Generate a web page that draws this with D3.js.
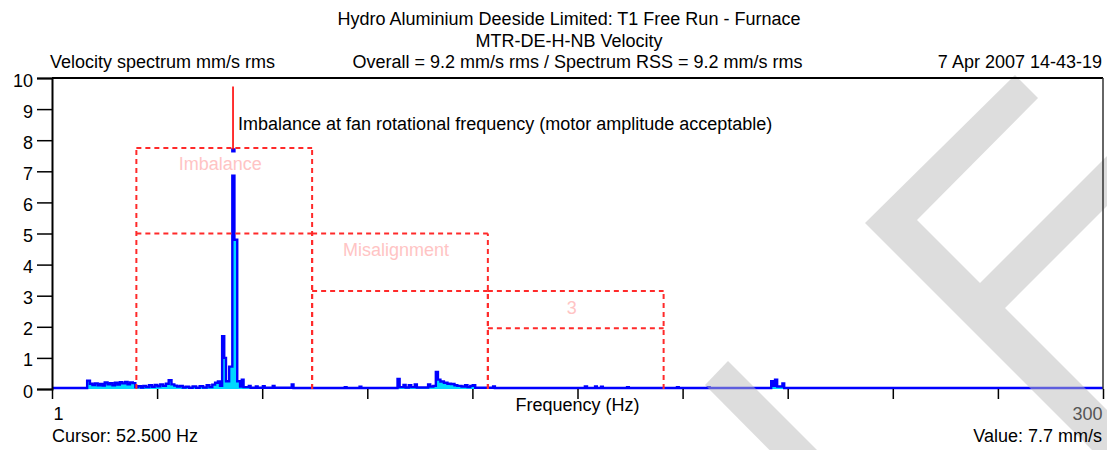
<!DOCTYPE html>
<html>
<head>
<meta charset="utf-8">
<script src="https://cdn.jsdelivr.net/npm/d3@7"></script>
<style>
  html, body { margin: 0; padding: 0; background: #fff; }
  svg { display: block; font-family: "Liberation Sans", Arial, sans-serif; }
</style>
</head>
<body>
<svg id="chart" width="1107" height="450"></svg>
<script>
// ---- Chart data ----------------------------------------------------------
const titleLines = [
  "Hydro Aluminium Deeside Limited: T1 Free Run - Furnace",
  "MTR-DE-H-NB Velocity"
];
const headerLeft = "Velocity spectrum mm/s rms";
const headerCenter = "Overall = 9.2 mm/s rms / Spectrum RSS = 9.2 mm/s rms";
const headerRight = "7 Apr 2007 14-43-19";
const xAxisTitle = "Frequency (Hz)";
const footerLeft = "Cursor: 52.500 Hz";
const footerRight = "Value: 7.7 mm/s";

// Axis ranges and tick labels
const freqRange = [1, 300];
const ampRange = [0, 10];
const yTickValues = [0, 1, 2, 3, 4, 5, 6, 7, 8, 9, 10];
const xTickValues = [1, 30.9, 60.8, 90.7, 120.6, 150.5, 180.4, 210.3, 240.2, 270.1, 300];
const xTickLabels = ["1", "", "", "", "", "", "", "", "", "", "300"];

// Velocity spectrum: each amplitude (mm/s rms) holds from its frequency (Hz) to the next one
const specFreq = [
  1.0, 11.0, 11.8, 12.5, 13.2, 14.0, 14.7, 15.4, 16.0, 16.8, 17.5, 18.2, 18.9, 19.6,
  20.3, 21.0, 21.8, 22.5, 23.2, 24.0, 24.7, 25.4, 26.3, 27.0, 27.8, 28.6, 29.4, 30.2,
  31.0, 31.8, 32.6, 33.4, 34.2, 35.0, 35.8, 36.6, 37.4, 38.2, 39.0, 40.0, 41.0, 42.0,
  43.0, 44.0, 45.0, 45.8, 46.6, 47.4, 48.2, 48.8, 49.4, 50.0, 50.5, 51.4, 52.3, 52.9,
  53.7, 54.5, 55.0, 55.5, 57.0, 57.5, 59.0, 59.5, 61.0, 61.5, 63.8, 64.3, 69.2, 69.7,
  84.3, 84.8, 88.5, 89.0, 99.3, 99.9, 101.0, 101.6, 102.5, 103.2, 104.2, 104.8, 108.0,
  108.6, 109.5, 110.2, 110.8, 111.5, 112.5, 113.5, 114.5, 115.5, 116.3, 117.5, 118.5,
  119.2, 120.0, 120.7, 121.4, 126.5, 127.0, 152.6, 153.2, 155.5, 156.0, 157.2, 157.7,
  164.6, 165.1, 178.8, 179.3, 187.6, 188.1, 205.6, 206.1, 206.7, 207.3, 208.8, 209.3,
  300.0
];
const specAmp = [
  0.03, 0.27, 0.17, 0.13, 0.18, 0.12, 0.16, 0.11, 0.21, 0.15, 0.19, 0.12, 0.20, 0.14,
  0.22, 0.18, 0.23, 0.15, 0.21, 0.19, 0.06, 0.09, 0.05, 0.10, 0.06, 0.12, 0.07, 0.13,
  0.09, 0.15, 0.10, 0.17, 0.28, 0.15, 0.11, 0.08, 0.10, 0.05, 0.07, 0.04, 0.08, 0.04,
  0.09, 0.05, 0.12, 0.06, 0.14, 0.20, 0.24, 0.10, 1.70, 1.00, 0.25, 0.72, 7.70, 4.80,
  0.25, 0.08, 0.30, 0.06, 0.10, 0.04, 0.08, 0.04, 0.09, 0.04, 0.10, 0.04, 0.15, 0.03,
  0.06, 0.03, 0.07, 0.03, 0.32, 0.06, 0.13, 0.05, 0.12, 0.06, 0.15, 0.05, 0.15,
  0.08, 0.10, 0.55, 0.30, 0.24, 0.20, 0.17, 0.16, 0.12, 0.10, 0.08, 0.12,
  0.06, 0.10, 0.12, 0.04, 0.08, 0.03, 0.08, 0.03, 0.08, 0.03, 0.07, 0.03,
  0.06, 0.03, 0.06, 0.03, 0.06, 0.03, 0.25, 0.10, 0.30, 0.08, 0.18, 0.03,
  0.03
];

// Alarm bands: frequency limits and two alarm levels each (mm/s)
const bandNames = ["Imbalance", "Misalignment", "3"];
const bandStart = [25, 75, 125];
const bandEnd = [75, 125, 175];
const bandUpper = [7.75, 5.0, 3.15];
const bandLower = [5.0, 3.15, 1.95];

// Cursor
const cursorFreq = 52.5;
const cursorValue = 7.7;
const cursorNote = "Imbalance at fan rotational frequency (motor amplitude acceptable)";

// ---- Drawing -------------------------------------------------------------
const svg = d3.select("#chart");
const W = 1107, H = 450;
const plot = { left: 52, right: 1103, top: 78, bottom: 389 };
const FONT = 18;

const x = d3.scaleLinear().domain(freqRange).range([plot.left, plot.right]);
const y = d3.scaleLinear().domain(ampRange).range([plot.bottom, plot.top]);

svg.append("rect").attr("width", W).attr("height", H).attr("fill", "#fff");

const txt = (g, s, px, py, anchor, color) =>
  g.append("text").attr("x", px).attr("y", py)
    .attr("text-anchor", anchor || "start")
    .attr("font-size", FONT).attr("fill", color || "#000").text(s);

// Headings
const head = svg.append("g");
titleLines.forEach((t, i) => txt(head, t, 569, 24.5 + i * 22, "middle"));
txt(head, headerLeft, 50, 68, "start");
txt(head, headerCenter, (plot.left + plot.right) / 2, 68, "middle");
txt(head, headerRight, 1102, 68, "end");

// Spectrum
const pts = specFreq.map((f, i) => [f, specAmp[i]]);
const area = d3.area().curve(d3.curveStepAfter)
  .x(d => x(d[0])).y0(y(0)).y1(d => y(d[1]));
const line = d3.line().curve(d3.curveStepAfter)
  .x(d => x(d[0])).y(d => y(d[1]));

const specG = svg.append("g");
specG.append("path").datum(pts).attr("d", area).attr("fill", "#00d8ff");
specG.append("path").datum(pts).attr("d", line)
  .attr("fill", "none").attr("stroke", "#0000ff").attr("stroke-width", 2.4)
  .attr("stroke-linejoin", "miter");

// Alarm bands (dashed red outlines); verticals run from the baseline up so shared edges line up
const bandG = svg.append("g").attr("fill", "none").attr("stroke", "#ff2a2a")
  .attr("stroke-width", 2).attr("stroke-dasharray", "5,4");
bandNames.forEach((name, i) => {
  const x0 = x(bandStart[i]), x1 = x(bandEnd[i]);
  [bandUpper[i], bandLower[i]].forEach(v => {
    bandG.append("line").attr("x1", x0).attr("x2", x1).attr("y1", y(v)).attr("y2", y(v));
  });
  [x0, x1].forEach(xx => {
    bandG.append("line").attr("x1", xx).attr("x2", xx).attr("y1", y(0)).attr("y2", y(bandUpper[i]));
  });
});

// Band names on an opaque background
const labG = svg.append("g");
bandNames.forEach((name, i) => {
  const cx = (x(bandStart[i]) + x(bandEnd[i])) / 2 - 4;
  const by = y(bandUpper[i]) + 22.5;
  const t = txt(labG, name, cx, by, "middle", "#ffc4c4");
  const bb = t.node().getBBox();
  labG.insert("rect", "text").attr("x", bb.x).attr("y", by - 18)
    .attr("width", bb.width).attr("height", 22).attr("fill", "#fff");
});

// Cursor marker and note
const cx = x(cursorFreq);
svg.append("line").attr("x1", cx).attr("x2", cx)
  .attr("y1", y(cursorValue) - 63).attr("y2", y(cursorValue))
  .attr("stroke", "#ff0000").attr("stroke-width", 1.6);
txt(svg, cursorNote, cx + 5, y(cursorValue) - 20, "start");

// Watermark strokes
const wm = svg.append("g").attr("fill", "#bbbbbb").attr("fill-opacity", 0.5);
wm.append("path").attr("d",
  "M1015,75 L1038,98 L917,220 L980,283 L1200,63 L1200,113 L1005,308 L1200,503 L1200,558 L865,223 Z");
wm.append("path").attr("d", "M705,385 L728,361 L860,493 L836,517 Z");

// Axes
const yAxis = d3.axisLeft(y).tickValues(yTickValues).tickSize(15).tickPadding(4)
  .tickFormat(d3.format("d"));
const yg = svg.append("g").attr("transform", `translate(${plot.left},0)`).call(yAxis);
yg.select(".domain").attr("stroke", "#000").attr("stroke-width", 2);
yg.selectAll(".tick line").attr("stroke", "#000").attr("stroke-width", 1.5);
yg.selectAll(".tick text").attr("font-size", FONT).attr("font-family", "Liberation Sans, Arial, sans-serif")
  .attr("fill", "#000").attr("dy", null).attr("y", 8);

const xAxis = d3.axisBottom(x).tickValues(xTickValues).tickSize(10)
  .tickFormat((d, i) => xTickLabels[i]);
const xg = svg.append("g").attr("transform", `translate(0,${plot.bottom})`).call(xAxis);
xg.select(".domain").remove();
xg.selectAll(".tick line").attr("stroke", "#000").attr("stroke-width", 1.5);
xg.selectAll(".tick text").attr("font-size", FONT).attr("font-family", "Liberation Sans, Arial, sans-serif")
  .attr("dy", null).attr("y", 31)
  .attr("text-anchor", (d, i) => i === 0 ? "start" : "end")
  .attr("dx", (d, i) => i === 0 ? 1 : -1)
  .attr("fill", (d, i) => i === xTickValues.length - 1 ? "#555" : "#000");

// Plot frame: top and right edges
svg.append("line").attr("x1", plot.left).attr("x2", plot.right)
  .attr("y1", plot.top).attr("y2", plot.top).attr("stroke", "#000").attr("stroke-width", 2);
svg.append("line").attr("x1", plot.right).attr("x2", plot.right)
  .attr("y1", plot.top).attr("y2", plot.bottom).attr("stroke", "#333").attr("stroke-width", 1.5);

// Axis title and footer
txt(svg, xAxisTitle, (plot.left + plot.right) / 2, 411, "middle");
txt(svg, footerLeft, 52, 442, "start");
txt(svg, footerRight, 1102, 442, "end");
</script>
</body>
</html>
